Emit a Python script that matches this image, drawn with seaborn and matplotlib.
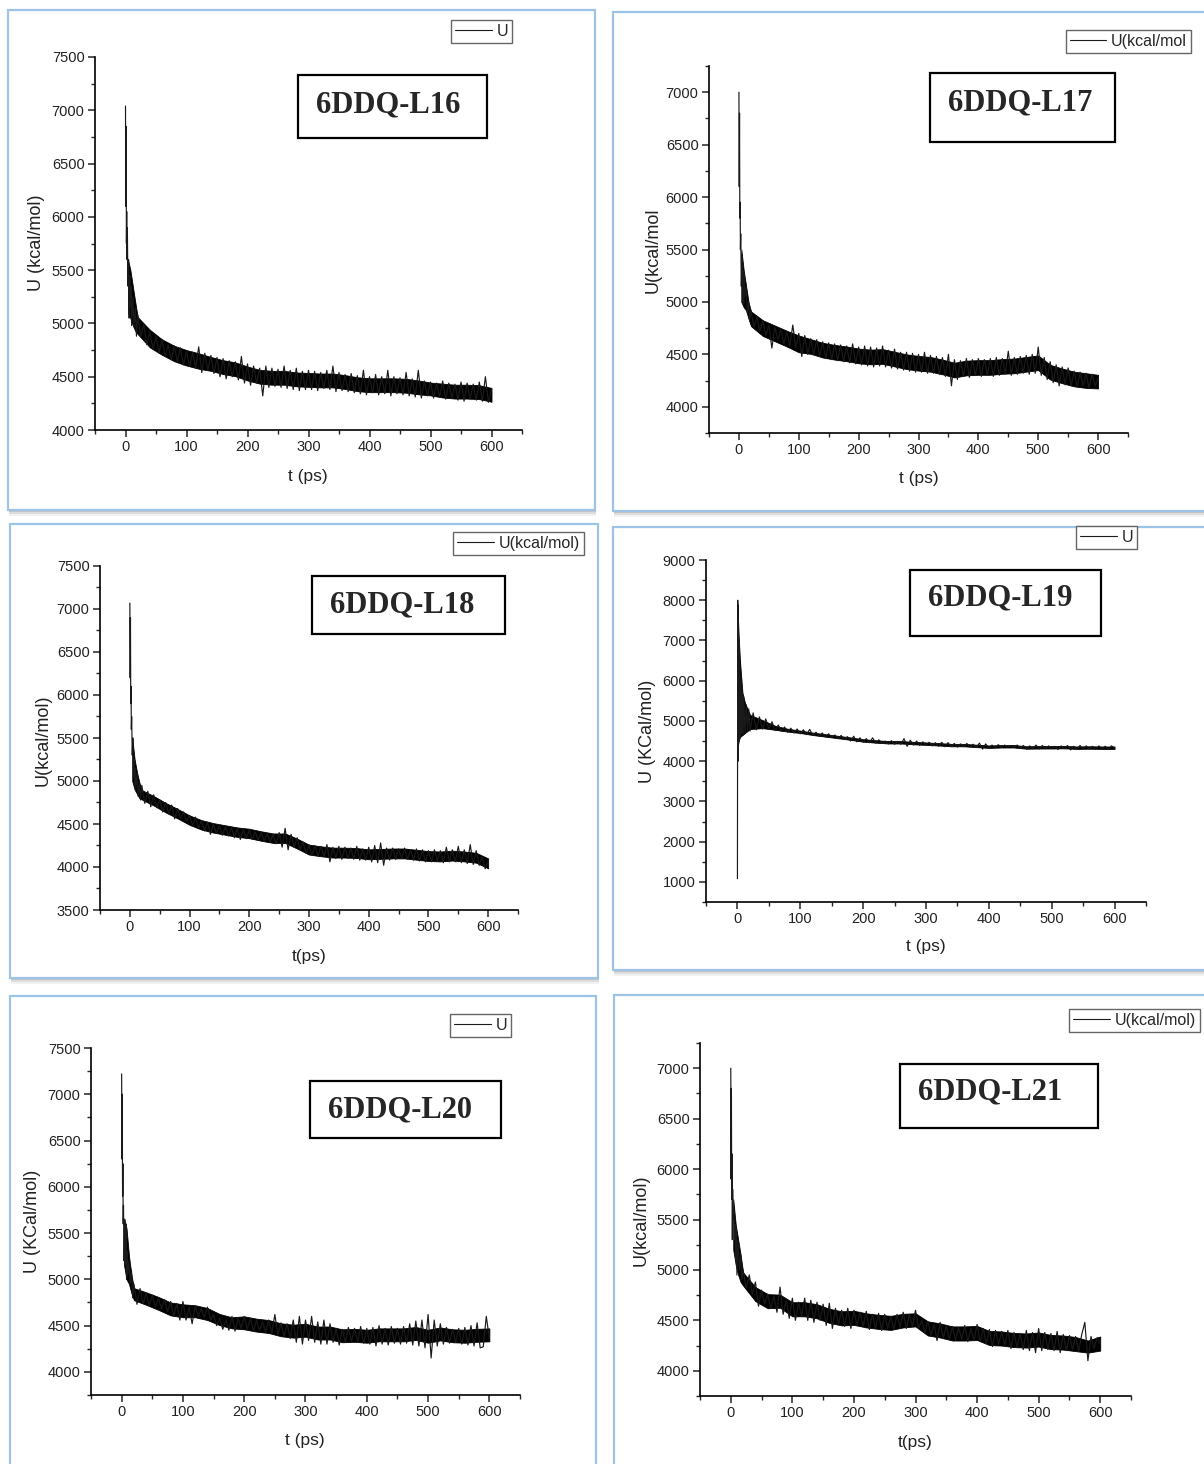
import numpy as np
import matplotlib
matplotlib.use("Agg")
import matplotlib.pyplot as plt
import seaborn as sns
from matplotlib.patches import Rectangle
from matplotlib.ticker import MultipleLocator

# time axis shared by all six runs (ps)
t_ps = [0, 0.5, 1, 1.5, 2, 2.5, 3, 4, 5, 6, 7, 8, 9, 10, 12, 14, 16, 18,
        20, 25, 30, 35, 40, 45, 50, 55, 60, 65,
        70, 75, 80, 85, 90, 95, 100, 105, 110, 115,
        120, 125, 130, 135, 140, 145, 150, 155, 160, 165,
        170, 175, 180, 185, 190, 195, 200, 205, 210, 215,
        220, 225, 230, 235, 240, 245, 250, 255, 260, 265,
        270, 275, 280, 285, 290, 295, 300, 305, 310, 315,
        320, 325, 330, 335, 340, 345, 350, 355, 360, 365,
        370, 375, 380, 385, 390, 395, 400, 405, 410, 415,
        420, 425, 430, 435, 440, 445, 450, 455, 460, 465,
        470, 475, 480, 485, 490, 495, 500, 505, 510, 515,
        520, 525, 530, 535, 540, 545, 550, 555, 560, 565,
        570, 575, 580, 585, 590, 595, 600]

# raw traces U(t), kcal/mol
u_l16 = [7040, 6100, 6850, 5750, 6050, 5600, 5900, 5350, 5600, 5050, 5450, 5150, 5350, 4980, 5250, 4980, 5150, 4880,
         5080, 4880, 4990, 4800, 4920, 4760, 4880, 4720, 4850, 4690,
         4800, 4660, 4790, 4640, 4770, 4610, 4740, 4600, 4730, 4580,
         4780, 4540, 4720, 4560, 4700, 4530, 4680, 4500, 4670, 4480,
         4650, 4500, 4640, 4470, 4690, 4440, 4620, 4420, 4600, 4440,
         4580, 4320, 4600, 4400, 4580, 4410, 4570, 4400, 4600, 4390,
         4560, 4380, 4580, 4370, 4550, 4380, 4560, 4380, 4550, 4370,
         4540, 4390, 4560, 4380, 4600, 4360, 4540, 4370, 4520, 4360,
         4530, 4350, 4510, 4340, 4560, 4330, 4500, 4350, 4520, 4330,
         4500, 4340, 4560, 4320, 4500, 4340, 4490, 4330, 4540, 4320,
         4480, 4310, 4560, 4300, 4460, 4320, 4450, 4300, 4440, 4310,
         4460, 4290, 4440, 4300, 4430, 4280, 4450, 4270, 4440, 4290,
         4430, 4280, 4450, 4270, 4500, 4260, 4380]

u_l17 = [7000, 6100, 6800, 5800, 5950, 5500, 5650, 5150, 5450, 5000, 5300, 4980, 5250, 5050, 5150, 4900, 5000, 4820,
         4920, 4760, 4860, 4720, 4820, 4680, 4780, 4560, 4760, 4640,
         4740, 4600, 4720, 4580, 4780, 4560, 4700, 4480, 4680, 4500,
         4650, 4500, 4640, 4480, 4620, 4460, 4610, 4450, 4600, 4440,
         4590, 4430, 4580, 4420, 4600, 4410, 4570, 4400, 4580, 4390,
         4570, 4380, 4560, 4390, 4580, 4380, 4540, 4370, 4550, 4360,
         4520, 4350, 4520, 4340, 4510, 4330, 4500, 4330, 4520, 4320,
         4490, 4320, 4480, 4310, 4470, 4290, 4500, 4200, 4450, 4260,
         4440, 4290, 4460, 4280, 4450, 4300, 4460, 4290, 4450, 4300,
         4460, 4290, 4470, 4300, 4460, 4310, 4530, 4300, 4470, 4310,
         4480, 4320, 4490, 4310, 4500, 4320, 4570, 4300, 4470, 4260,
         4430, 4230, 4400, 4200, 4380, 4210, 4370, 4200, 4340, 4190,
         4330, 4200, 4320, 4180, 4310, 4200, 4270]

u_l18 = [7070, 6200, 6900, 5900, 6100, 5600, 5750, 5300, 5500, 5050, 5250, 4950, 5150, 4900, 5100, 4820, 5000, 4780,
         4950, 4740, 4880, 4700, 4840, 4690, 4780, 4640, 4750, 4620,
         4720, 4560, 4680, 4560, 4640, 4530, 4600, 4480, 4580, 4450,
         4540, 4420, 4520, 4380, 4500, 4390, 4480, 4370, 4470, 4360,
         4460, 4340, 4450, 4320, 4440, 4330, 4430, 4320, 4410, 4310,
         4400, 4300, 4390, 4290, 4380, 4270, 4400, 4230, 4450, 4200,
         4380, 4230, 4340, 4200, 4290, 4160, 4260, 4140, 4250, 4130,
         4240, 4120, 4260, 4060, 4230, 4100, 4240, 4090, 4230, 4100,
         4220, 4090, 4240, 4080, 4210, 4080, 4230, 4060, 4250, 4050,
         4280, 4020, 4220, 4080, 4220, 4090, 4210, 4100, 4220, 4090,
         4200, 4080, 4210, 4070, 4200, 4060, 4190, 4060, 4200, 4070,
         4190, 4050, 4230, 4060, 4200, 4060, 4240, 4050, 4200, 4040,
         4260, 4030, 4190, 4020, 4120, 3980, 4060]

u_l19 = [1080, 8000, 4000, 7500, 4600, 7000, 4500, 6400, 4600, 6000, 4700, 5700, 4650, 5600, 4700, 5400, 4750, 5300,
         4750, 5200, 4780, 5100, 4800, 5050, 4800, 4980, 4760, 4900,
         4740, 4850, 4720, 4820, 4700, 4800, 4680, 4780, 4660, 4790,
         4640, 4720, 4620, 4700, 4600, 4680, 4590, 4650, 4560, 4640,
         4540, 4610, 4500, 4620, 4480, 4580, 4470, 4560, 4460, 4580,
         4450, 4530, 4440, 4500, 4430, 4510, 4420, 4490, 4420, 4560,
         4370, 4520, 4400, 4500, 4390, 4480, 4400, 4470, 4380, 4460,
         4370, 4470, 4360, 4460, 4360, 4440, 4350, 4430, 4360, 4440,
         4350, 4420, 4340, 4450, 4300, 4430, 4320, 4400, 4330, 4410,
         4340, 4400, 4350, 4390, 4340, 4400, 4330, 4390, 4300, 4380,
         4310, 4400, 4300, 4390, 4310, 4380, 4320, 4370, 4290, 4380,
         4310, 4390, 4280, 4370, 4300, 4390, 4300, 4380, 4300, 4370,
         4290, 4380, 4300, 4370, 4290, 4380, 4330]

u_l20 = [7220, 6300, 7000, 5900, 6250, 5600, 5800, 5200, 5650, 5150, 5600, 5000, 5300, 5050, 5200, 4950, 5100, 4800,
         4950, 4730, 4900, 4740, 4850, 4720, 4830, 4700, 4800, 4680,
         4780, 4650, 4760, 4600, 4740, 4560, 4760, 4560, 4700, 4520,
         4710, 4600, 4680, 4590, 4700, 4560, 4620, 4500, 4580, 4460,
         4560, 4450, 4600, 4440, 4580, 4470, 4600, 4460, 4580, 4440,
         4560, 4450, 4540, 4430, 4560, 4420, 4620, 4400, 4530, 4380,
         4520, 4360, 4560, 4320, 4600, 4300, 4560, 4340, 4600, 4320,
         4540, 4300, 4560, 4300, 4520, 4320, 4470, 4290, 4460, 4320,
         4480, 4330, 4470, 4320, 4490, 4310, 4470, 4300, 4480, 4280,
         4500, 4300, 4470, 4290, 4490, 4310, 4470, 4300, 4490, 4310,
         4520, 4290, 4550, 4280, 4560, 4260, 4620, 4150, 4560, 4280,
         4520, 4300, 4480, 4310, 4460, 4320, 4470, 4300, 4480, 4290,
         4500, 4280, 4530, 4260, 4270, 4600, 4360]

u_l21 = [7000, 5900, 6800, 5700, 6150, 5300, 5800, 5500, 5600, 5300, 5450, 5100, 5400, 4950, 5300, 5000, 5150, 4900,
         5000, 4820, 4950, 4760, 4880, 4640, 4800, 4660, 4760, 4620,
         4740, 4580, 4830, 4560, 4700, 4520, 4720, 4500, 4680, 4540,
         4720, 4500, 4700, 4480, 4680, 4500, 4660, 4450, 4670, 4420,
         4620, 4460, 4600, 4440, 4620, 4420, 4600, 4450, 4580, 4440,
         4590, 4410, 4560, 4420, 4570, 4400, 4560, 4420, 4540, 4410,
         4560, 4430, 4580, 4420, 4560, 4440, 4600, 4420, 4500, 4380,
         4490, 4350, 4460, 4300, 4480, 4320, 4450, 4310, 4440, 4300,
         4430, 4310, 4450, 4290, 4420, 4300, 4460, 4290, 4420, 4270,
         4410, 4240, 4400, 4260, 4390, 4250, 4400, 4220, 4380, 4230,
         4370, 4210, 4400, 4200, 4380, 4180, 4420, 4200, 4380, 4210,
         4370, 4200, 4390, 4180, 4360, 4200, 4350, 4210, 4340, 4190,
         4360, 4480, 4100, 4340, 4220, 4330, 4270]

# dense core of the fluctuation band (upper / lower edge)
t_band = [4, 8, 12, 16, 20, 40, 60, 80, 100, 120, 140, 160, 180, 200, 220, 240, 260, 280, 300,
          320, 340, 360, 380, 400, 420, 440, 460, 480, 500, 520, 540, 560, 580, 600]

hi_l16 = [5600, 5500, 5350, 5200,
          5060, 4940, 4850, 4790, 4750, 4720, 4685, 4655, 4635, 4595, 4565, 4555, 4555, 4540, 4535,
          4530, 4530, 4515, 4495, 4485, 4485, 4485, 4480, 4465, 4445, 4435, 4425, 4425, 4420, 4395]
lo_l16 = [5100, 5050, 4980, 4930,
          4900, 4775, 4705, 4645, 4605, 4575, 4555, 4525, 4505, 4465, 4435, 4425, 4425, 4410, 4405,
          4400, 4400, 4385, 4365, 4355, 4355, 4355, 4350, 4335, 4325, 4305, 4295, 4295, 4290, 4265]

hi_l17 = [5500, 5300, 5150, 5000,
          4910, 4825, 4775, 4725, 4680, 4645, 4610, 4590, 4575, 4555, 4545, 4550, 4525, 4500, 4485,
          4475, 4450, 4420, 4440, 4445, 4445, 4455, 4460, 4475, 4490, 4400, 4365, 4335, 4320, 4305]
lo_l17 = [5000, 4950, 4920, 4840,
          4770, 4675, 4625, 4575, 4520, 4505, 4470, 4450, 4435, 4415, 4405, 4410, 4385, 4360, 4345,
          4335, 4310, 4280, 4300, 4305, 4305, 4315, 4320, 4335, 4350, 4260, 4225, 4195, 4180, 4175]

hi_l18 = [5500, 5250, 5100, 4980,
          4895, 4825, 4745, 4675, 4600, 4545, 4510, 4485, 4460, 4445, 4415, 4390, 4390, 4330, 4260,
          4240, 4225, 4225, 4220, 4205, 4210, 4215, 4215, 4200, 4185, 4180, 4190, 4180, 4165, 4100]
lo_l18 = [5000, 4900, 4850, 4800,
          4785, 4715, 4635, 4565, 4490, 4435, 4400, 4375, 4350, 4335, 4305, 4280, 4280, 4215, 4145,
          4125, 4110, 4110, 4105, 4090, 4095, 4100, 4100, 4085, 4070, 4065, 4075, 4065, 4050, 3985]

hi_l19 = [6500, 5700, 5450, 5300,
          5150, 5020, 4880, 4805, 4760, 4710, 4670, 4630, 4590, 4545, 4520, 4500, 4500, 4480, 4465,
          4450, 4430, 4430, 4410, 4390, 4400, 4400, 4370, 4375, 4375, 4380, 4365, 4370, 4365, 4365]
lo_l19 = [4600, 4650, 4700, 4750,
          4800, 4820, 4780, 4735, 4700, 4650, 4610, 4570, 4530, 4485, 4460, 4440, 4440, 4420, 4405,
          4390, 4370, 4370, 4350, 4330, 4340, 4340, 4310, 4315, 4315, 4320, 4305, 4310, 4305, 4305]

hi_l20 = [5650, 5550, 5250, 5050,
          4905, 4860, 4810, 4750, 4730, 4720, 4690, 4625, 4590, 4600, 4575, 4560, 4525, 4510, 4520,
          4490, 4490, 4460, 4465, 4455, 4470, 4470, 4470, 4485, 4455, 4480, 4460, 4455, 4465, 4470]
lo_l20 = [5150, 5000, 4950, 4850,
          4775, 4725, 4670, 4610, 4590, 4590, 4560, 4505, 4470, 4460, 4435, 4420, 4385, 4370, 4380,
          4350, 4350, 4320, 4325, 4315, 4330, 4330, 4330, 4345, 4315, 4340, 4320, 4315, 4325, 4330]

hi_l21 = [5700, 5450, 5300, 5150,
          4975, 4830, 4760, 4755, 4680, 4680, 4660, 4615, 4590, 4595, 4570, 4555, 4545, 4565, 4570,
          4490, 4470, 4440, 4440, 4445, 4395, 4390, 4375, 4370, 4380, 4355, 4350, 4335, 4300, 4340]
lo_l21 = [5200, 5050, 4950, 4880,
          4845, 4690, 4620, 4625, 4540, 4540, 4520, 4475, 4450, 4455, 4430, 4415, 4405, 4430, 4440,
          4350, 4330, 4300, 4300, 4305, 4255, 4250, 4235, 4230, 4240, 4215, 4210, 4195, 4180, 4200]

# L19 opens with a strong oscillation burst
t_burst_l19 = [0.5, 1, 2, 3, 4]
hi_burst_l19 = [7900, 7500, 7100, 6800, 6500]
lo_burst_l19 = [4200, 4400, 4500, 4550, 4600]

panel_names = ["6DDQ-L16", "6DDQ-L17", "6DDQ-L18", "6DDQ-L19", "6DDQ-L20", "6DDQ-L21"]
legend_labels = ["U", "U(kcal/mol", "U(kcal/mol)", "U", "U", "U(kcal/mol)"]
y_labels = ["U (kcal/mol)", "U(kcal/mol", "U(kcal/mol)", "U (KCal/mol)", "U (KCal/mol)", "U(kcal/mol)"]
x_labels = ["t (ps)", "t (ps)", "t(ps)", "t (ps)", "t (ps)", "t(ps)"]
series = [u_l16, u_l17, u_l18, u_l19, u_l20, u_l21]
bands_hi = [hi_l16, hi_l17, hi_l18, hi_l19, hi_l20, hi_l21]
bands_lo = [lo_l16, lo_l17, lo_l18, lo_l19, lo_l20, lo_l21]

# layout, in pixels of the 1204 x 1464 canvas
layout = [
    dict(ax=(95, 57, 522, 430), ylim=(4000, 7500), ymaj=500, ymin=250, ylab=(37, 243), xlab=(308, 477),
         box=(298, 75, 487, 138), name_xy=(388, 105), leg=(512, 20), frame=(8, 10, 595, 510)),
    dict(ax=(709, 66, 1128, 433), ylim=(3750, 7250), ymaj=500, ymin=250, ylab=(653, 250), xlab=(919, 479),
         box=(930, 73, 1115, 142), name_xy=(1020, 103), leg=(1191, 30), frame=(613, 12, 1215, 511)),
    dict(ax=(100, 566, 518, 910), ylim=(3500, 7500), ymaj=500, ymin=250, ylab=(43, 740), xlab=(309, 956),
         box=(312, 576, 505, 634), name_xy=(402, 605), leg=(584, 532), frame=(10, 524, 598, 978)),
    dict(ax=(706, 560, 1146, 902), ylim=(500, 9000), ymaj=1000, ymin=500, ylab=(647, 731), xlab=(926, 946),
         box=(910, 570, 1101, 636), name_xy=(1000, 598), leg=(1137, 526), frame=(613, 527, 1215, 970)),
    dict(ax=(91, 1048, 520, 1395), ylim=(3750, 7500), ymaj=500, ymin=250, ylab=(32, 1221), xlab=(305, 1440),
         box=(310, 1081, 501, 1138), name_xy=(400, 1110), leg=(511, 1014), frame=(10, 996, 596, 1475)),
    dict(ax=(700, 1043, 1131, 1396), ylim=(3750, 7250), ymaj=500, ymin=250, ylab=(641, 1220), xlab=(915, 1442),
         box=(900, 1064, 1098, 1128), name_xy=(990, 1092), leg=(1200, 1009), frame=(614, 995, 1215, 1475)),
]

sns.set_style("ticks")
plt.rcParams["font.family"] = ["Liberation Sans", "DejaVu Sans"]

W, H = 1204, 1464
fig = plt.figure(figsize=(W / 100, H / 100), dpi=100)
fig.patch.set_facecolor("white")


def fx(x):
    return x / W


def fy(y):
    return 1 - y / H


for i, lay in enumerate(layout):
    # screenshot frame with soft shadow
    fl, ft, fr, fb = lay["frame"]
    for k, a in [(6, 0.10), (4, 0.18), (2, 0.28)]:
        fig.add_artist(Rectangle((fx(fl + 1), fy(fb + k)), (fr - fl) / W, (fb - ft) / H,
                                 transform=fig.transFigure, facecolor="#808080", edgecolor="none",
                                 alpha=a, zorder=-3))
    fig.add_artist(Rectangle((fx(fl), fy(fb)), (fr - fl) / W, (fb - ft) / H,
                             transform=fig.transFigure, facecolor="white", edgecolor="#9dc3e6",
                             lw=1.6, zorder=-2))

    l, t, r, b = lay["ax"]
    ax = fig.add_axes([fx(l), fy(b), (r - l) / W, (b - t) / H])
    ax.patch.set_alpha(0)
    ax.fill_between(t_band, bands_lo[i], bands_hi[i], color="black", lw=0.6, zorder=2)
    if panel_names[i] == "6DDQ-L19":
        ax.fill_between(t_burst_l19, lo_burst_l19, hi_burst_l19, color="black", lw=0.6, zorder=2)
    sns.lineplot(x=t_ps, y=series[i], ax=ax, color="#1a1a1a", lw=0.85, estimator=None,
                 label=legend_labels[i], zorder=3)

    ax.set_xlim(-50, 650)
    ax.set_ylim(*lay["ylim"])
    ax.xaxis.set_major_locator(MultipleLocator(100))
    ax.xaxis.set_minor_locator(MultipleLocator(50))
    ax.yaxis.set_major_locator(MultipleLocator(lay["ymaj"]))
    ax.yaxis.set_minor_locator(MultipleLocator(lay["ymin"]))
    sns.despine(ax=ax)
    for s in ["left", "bottom"]:
        ax.spines[s].set_linewidth(1.2)
        ax.spines[s].set_color("black")
    ax.tick_params(which="major", direction="out", length=5, width=1.1, labelsize=10.5,
                   pad=2.5, labelcolor="#222222")
    ax.tick_params(which="minor", direction="out", length=3, width=1.0)

    ax.set_ylabel(y_labels[i], fontsize=13, color="#222222")
    ax.yaxis.label.set_verticalalignment("center")
    ax.yaxis.set_label_coords((lay["ylab"][0] - l) / (r - l), (b - lay["ylab"][1]) / (b - t))
    ax.set_xlabel(x_labels[i], fontsize=12.5, color="#222222")
    ax.xaxis.label.set_verticalalignment("center")
    ax.xaxis.set_label_coords((lay["xlab"][0] - l) / (r - l), (b - lay["xlab"][1]) / (b - t))

    lg = ax.legend(loc="upper right", bbox_to_anchor=(fx(lay["leg"][0]), fy(lay["leg"][1])),
                   bbox_transform=fig.transFigure, borderaxespad=0, frameon=True, fancybox=False,
                   framealpha=1, edgecolor="#666666", fontsize=11.5, handlelength=2.3,
                   handletextpad=0.3, borderpad=0.25)
    lg.get_frame().set_linewidth(1.0)
    for h in lg.get_lines():
        h.set_linewidth(0.8)

    bl, bt, br, bb = lay["box"]
    fig.add_artist(Rectangle((fx(bl), fy(bb)), (br - bl) / W, (bb - bt) / H,
                             transform=fig.transFigure, fill=False, edgecolor="black", lw=1.6, zorder=5))
    fig.text(fx(lay["name_xy"][0]), fy(lay["name_xy"][1]), panel_names[i], ha="center", va="center",
             family="Liberation Serif", fontweight="bold", fontsize=22, zorder=6)

fig.savefig("out.png", dpi=100, facecolor="white")
